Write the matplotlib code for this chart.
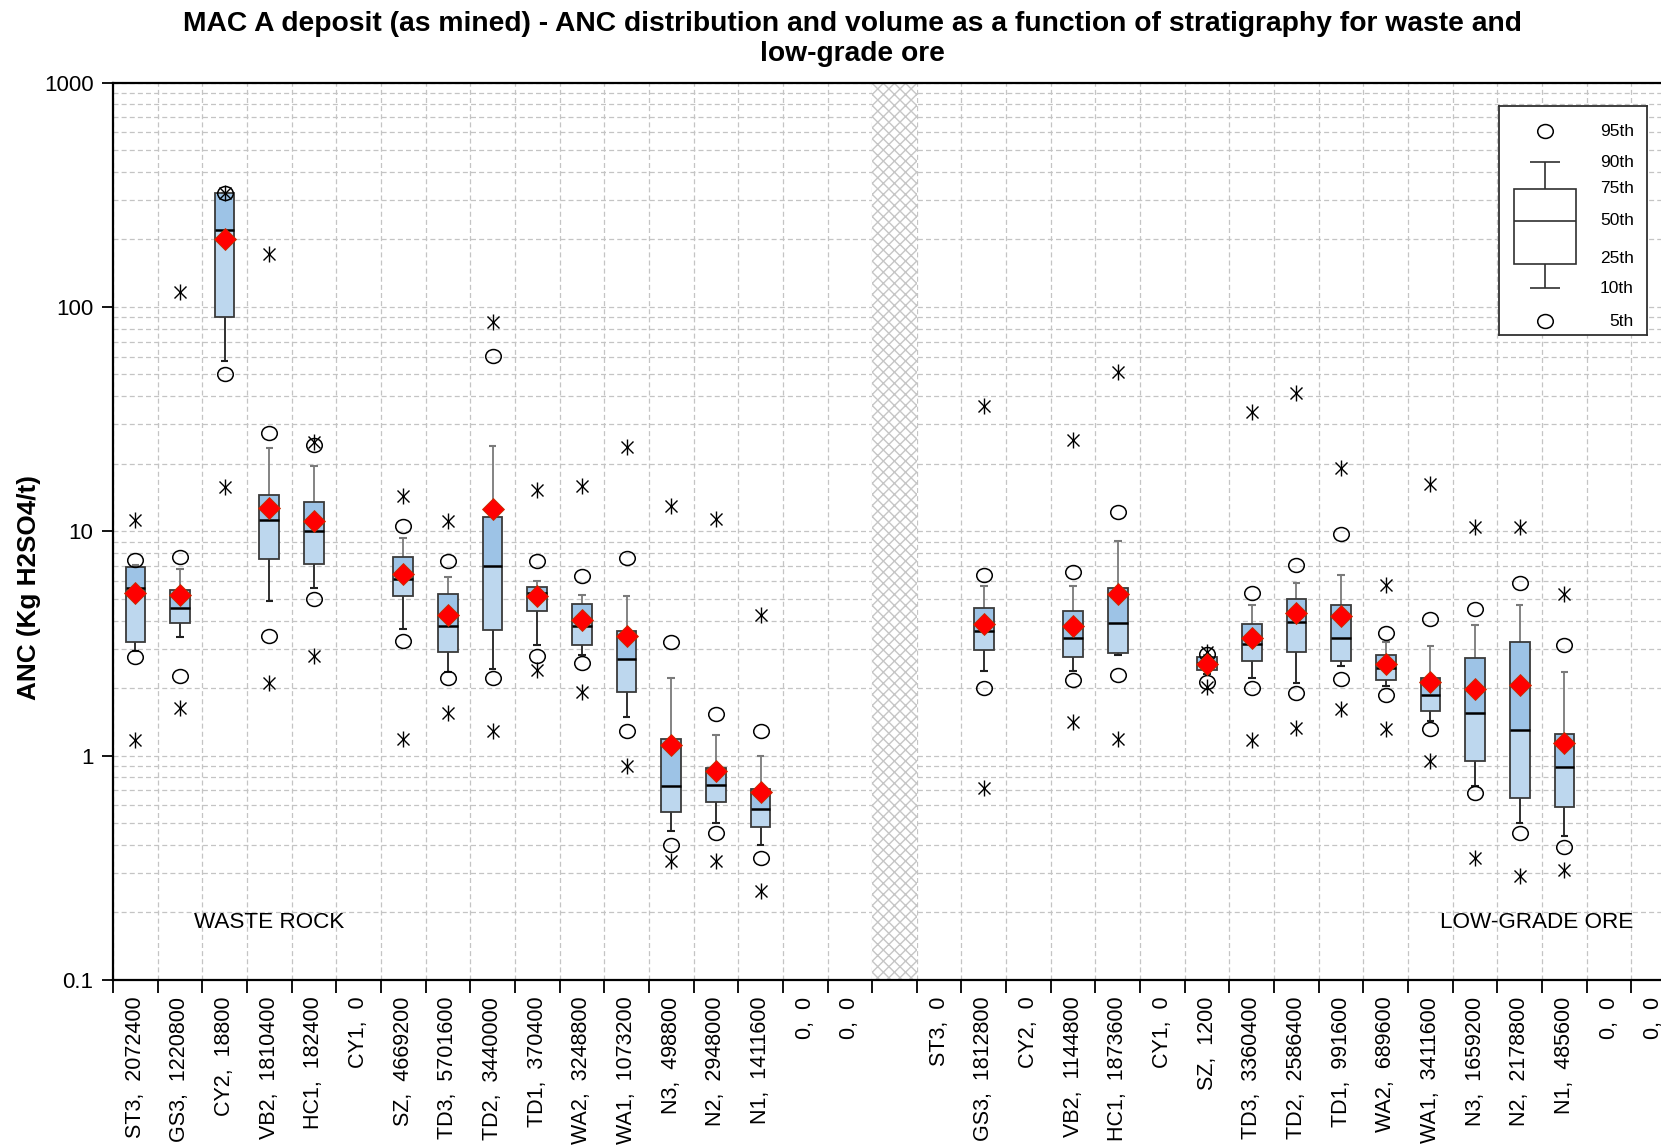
import numpy as np
import matplotlib
matplotlib.use("Agg")
import matplotlib.pyplot as plt
from matplotlib.markers import MarkerStyle
from matplotlib.transforms import Affine2D
from matplotlib.ticker import FixedLocator, NullFormatter, FuncFormatter

plt.rcParams['font.family'] = ['Liberation Sans', 'DejaVu Sans']
plt.rcParams['hatch.linewidth'] = 1.0

nan = np.nan

labels = ["ST3,  2072400", "GS3,  1220800", "CY2,  18800", "VB2,  1810400", "HC1,  182400",
          "CY1,  0", "SZ,  4669200", "TD3,  5701600", "TD2,  3440000", "TD1,  370400",
          "WA2,  3248800", "WA1,  1073200", "N3,  498800", "N2,  2948000", "N1,  1411600",
          "0,  0", "0,  0",
          "",
          "ST3,  0", "GS3,  1812800", "CY2,  0", "VB2,  1144800", "HC1,  1873600",
          "CY1,  0", "SZ,  1200", "TD3,  3360400", "TD2,  2586400", "TD1,  991600",
          "WA2,  689600", "WA1,  3411600", "N3,  1659200", "N2,  2178800", "N1,  485600",
          "0,  0", "0,  0"]

p_min = [1.17, 1.63, 15.8, 2.1, 2.78, nan, 1.19, 1.55, 1.29, 2.41, 1.92, 0.90, 0.34, 0.34, 0.25, nan, nan,
         nan,
         nan, 0.72, nan, 1.41, 1.19, nan, 2.03, 1.17, 1.33, 1.61, 1.32, 0.95, 0.35, 0.29, 0.31, nan, nan]
p5 = [2.75, 2.26, 50.1, 3.43, 5.01, nan, 3.26, 2.21, 2.23, 2.78, 2.59, 1.29, 0.40, 0.45, 0.35, nan, nan,
      nan,
      nan, 2.0, nan, 2.17, 2.29, nan, 2.14, 2.0, 1.9, 2.2, 1.87, 1.32, 0.68, 0.45, 0.39, nan, nan]
p10 = [2.93, 3.39, 57.4, 4.9, 5.57, nan, 3.67, 2.36, 2.43, 3.1, 2.81, 1.48, 0.46, 0.50, 0.40, nan, nan,
       nan,
       nan, 2.39, nan, 2.38, 2.8, nan, 2.3, 2.21, 2.1, 2.5, 2.04, 1.42, 0.73, 0.50, 0.44, nan, nan]
p25 = [3.22, 3.92, 90.6, 7.55, 7.12, nan, 5.15, 2.89, 3.62, 4.41, 3.12, 1.93, 0.56, 0.62, 0.48, nan, nan,
       nan,
       nan, 2.95, nan, 2.76, 2.87, nan, 2.41, 2.65, 2.89, 2.65, 2.18, 1.58, 0.95, 0.65, 0.59, nan, nan]
p50 = [5.6, 4.53, 220, 11.2, 10.0, nan, 6.14, 3.80, 6.98, 5.32, 3.77, 2.71, 0.73, 0.74, 0.58, nan, nan,
       nan,
       nan, 3.6, nan, 3.33, 3.92, nan, 2.6, 3.16, 3.95, 3.35, 2.45, 1.87, 1.55, 1.30, 0.89, nan, nan]
p75 = [6.9, 5.5, 321, 14.5, 13.5, nan, 7.67, 5.25, 11.6, 5.63, 4.73, 3.6, 1.19, 0.88, 0.71, nan, nan,
       nan,
       nan, 4.53, nan, 4.41, 5.57, nan, 2.76, 3.87, 4.99, 4.71, 2.81, 2.23, 2.73, 3.2, 1.25, nan, nan]
p90 = [7.1, 6.77, 321, 23.4, 19.5, nan, 9.37, 6.26, 24.0, 6.02, 5.19, 5.15, 2.23, 1.24, 1.0, nan, nan,
       nan,
       nan, 5.68, nan, 5.72, 9.06, nan, 2.8, 4.67, 5.9, 6.38, 3.22, 3.08, 3.84, 4.67, 2.36, nan, nan]
p95 = [7.45, 7.67, 322, 27.3, 24.3, nan, 10.6, 7.38, 60.5, 7.38, 6.34, 7.61, 3.2, 1.54, 1.29, nan, nan,
       nan,
       nan, 6.38, nan, 6.59, 12.2, nan, 2.84, 5.29, 7.04, 9.7, 3.51, 4.08, 4.49, 5.86, 3.1, nan, nan]
p_max = [11.2, 117, 322, 173, 25.1, nan, 14.3, 11.1, 86, 15.3, 15.9, 23.7, 12.9, 11.4, 4.24, nan, nan,
         nan,
         nan, 36, nan, 25.5, 51.5, nan, 2.89, 34.1, 41.2, 19.1, 5.79, 16.3, 10.4, 10.5, 5.25, nan, nan]
mean = [5.3, 5.19, 200, 12.7, 11.1, nan, 6.43, 4.24, 12.6, 5.15, 4.04, 3.43, 1.12, 0.85, 0.69, nan, nan,
        nan,
        nan, 3.87, nan, 3.8, 5.25, nan, 2.55, 3.35, 4.32, 4.2, 2.55, 2.12, 1.98, 2.07, 1.14, nan, nan]

gap_index = 17
title = ("MAC A deposit (as mined) - ANC distribution and volume as a function of stratigraphy for waste and\n"
         "low-grade ore")

W, H = 1661, 1147
fig = plt.figure(figsize=(W / 100, H / 100), dpi=100)
ax = fig.add_axes([113 / W, 1 - 980 / H, (1676 - 113) / W, (980 - 82.6) / H])

n = len(labels)
x = np.arange(n)
arr = lambda a: np.array(a, dtype=float)
p_min, p5, p10, p25, p50, p75, p90, p95, p_max, mean = map(arr, [p_min, p5, p10, p25, p50, p75, p90, p95, p_max, mean])
ok = ~np.isnan(p50)
xs = x[ok]

bw = 0.44
cw = 0.17
ax.set_yscale('log')
ax.set_ylim(0.1, 1000)
ax.set_xlim(-0.5, n - 0.5)

# grid
grid_kw = dict(color='#c4c4c4', linestyle=(0, (4, 2.5)), linewidth=0.9)
ax.yaxis.set_major_locator(FixedLocator([0.1, 1, 10, 100, 1000]))
ax.yaxis.set_major_formatter(FuncFormatter(lambda v, p: f"{v:g}"))
minors = [m * 10.0 ** e for e in range(-1, 3) for m in range(2, 10)]
ax.yaxis.set_minor_locator(FixedLocator(minors))
ax.yaxis.set_minor_formatter(NullFormatter())
ax.xaxis.set_major_locator(FixedLocator(np.arange(-0.5, n, 1.0)))
ax.xaxis.set_major_formatter(NullFormatter())
ax.xaxis.set_minor_locator(FixedLocator(x))
ax.xaxis.set_minor_formatter(FuncFormatter(lambda v, p: labels[int(round(v))]))
ax.grid(True, which='both', axis='y', **grid_kw)
ax.grid(True, which='major', axis='x', **grid_kw)
ax.set_axisbelow(True)

# hatched gap
ax.axvspan(gap_index - 0.5, gap_index + 0.5, facecolor='white', edgecolor='#c6c6c6', hatch='xxx', lw=0, zorder=1)

# boxes
ax.bar(xs, p50[ok] - p25[ok], bottom=p25[ok], width=bw, color='#bdd7ee', linewidth=0, zorder=2)
ax.bar(xs, p75[ok] - p50[ok], bottom=p50[ok], width=bw, color='#9dc3e6', linewidth=0, zorder=2)
ax.bar(xs, p75[ok] - p25[ok], bottom=p25[ok], width=bw, fill=False, edgecolor='#3a3a3a', linewidth=1.3, zorder=3)
ax.hlines(p50[ok], xs - bw / 2, xs + bw / 2, color='black', linewidth=1.8, zorder=4)
# whiskers
ax.vlines(xs, p75[ok], p90[ok], color='#7a7a7a', linewidth=1.3, zorder=2)
ax.vlines(xs, p10[ok], p25[ok], color='#202020', linewidth=1.3, zorder=2)
ax.hlines(p90[ok], xs - cw / 2, xs + cw / 2, color='#7a7a7a', linewidth=1.5, zorder=2)
ax.hlines(p10[ok], xs - cw / 2, xs + cw / 2, color='#202020', linewidth=1.5, zorder=2)

circ = MarkerStyle('o', transform=Affine2D().scale(1.12, 1.0))
for arr_c in (p5, p95):
    ax.plot(xs, arr_c[ok], linestyle='none', marker=circ, markersize=10, mfc='none', mec='black', mew=1.1, zorder=5)
for arr_s in (p_min, p_max):
    ax.plot(xs, arr_s[ok], linestyle='none', marker='x', markersize=9, mec='black', mew=1.0, zorder=5)
    ax.plot(xs, arr_s[ok], linestyle='none', marker='|', markersize=12, mec='black', mew=1.0, zorder=5)
ax.plot(xs, mean[ok], linestyle='none', marker='D', markersize=11, mfc='#ff0000', mec='#c03000', mew=0.6, zorder=6)

# ticks and spines
ax.tick_params(axis='y', which='major', labelsize=16, length=8, width=1.3, direction='out', pad=6)
ax.tick_params(axis='y', which='minor', length=0)
ax.tick_params(axis='x', which='major', length=9, width=1.3, direction='out')
ax.tick_params(axis='x', which='minor', length=0, labelsize=15.5, labelrotation=90, pad=12)
for lab in ax.get_xticklabels(minor=True):
    lab.set_verticalalignment('top')
for s in ax.spines.values():
    s.set_linewidth(1.6)
    s.set_color('black')

ax.text(3.0, 0.18, "WASTE ROCK", fontsize=16.2, ha='center', va='center', zorder=7)
ax.text(33.55, 0.18, "LOW-GRADE ORE", fontsize=16.2, ha='right', va='center', zorder=7)

fig.text(852 / W, 1 - 39 / H, title, fontsize=20.3, fontweight='bold', ha='center', va='center', linespacing=1.22)
fig.text(28.6 / W, 1 - 588 / H, "ANC (Kg H2SO4/t)", fontsize=18.8, fontweight='bold', rotation=90, ha='center', va='center')

# legend box
lax = fig.add_axes([1499 / W, 1 - 335 / H, 148 / W, 229 / H])
lax.set_xlim(0, 1)
lax.set_ylim(0, 1)
lax.set_xticks([])
lax.set_yticks([])
for s in lax.spines.values():
    s.set_linewidth(1.3)
    s.set_color('#303030')
lx = 0.31
leg_pos = {'95th': 0.889, '90th': 0.755, '75th': 0.639, '50th': 0.5, '25th': 0.333, '10th': 0.204, '5th': 0.06}
lax.plot([lx], [leg_pos['95th']], marker=circ, markersize=10, mfc='none', mec='black', mew=1.1, linestyle='none')
lax.plot([lx], [leg_pos['5th']], marker=circ, markersize=10, mfc='none', mec='black', mew=1.1, linestyle='none')
box_top, box_bot = 0.639, 0.31
lax.bar([lx], [box_top - box_bot], bottom=[box_bot], width=0.42, fill=False, edgecolor='#303030', linewidth=1.2)
lax.hlines([leg_pos['50th']], lx - 0.21, lx + 0.21, color='#303030', linewidth=1.2)
lax.vlines([lx, lx], [box_top, leg_pos['10th']], [leg_pos['90th'], box_bot], color='#303030', linewidth=1.2)
lax.hlines([leg_pos['90th'], leg_pos['10th']], lx - 0.1, lx + 0.1, color='#303030', linewidth=1.2)
for k, v in leg_pos.items():
    lax.text(0.91, v, k, fontsize=12.5, ha='right', va='center')

fig.savefig("out.png", dpi=100)
